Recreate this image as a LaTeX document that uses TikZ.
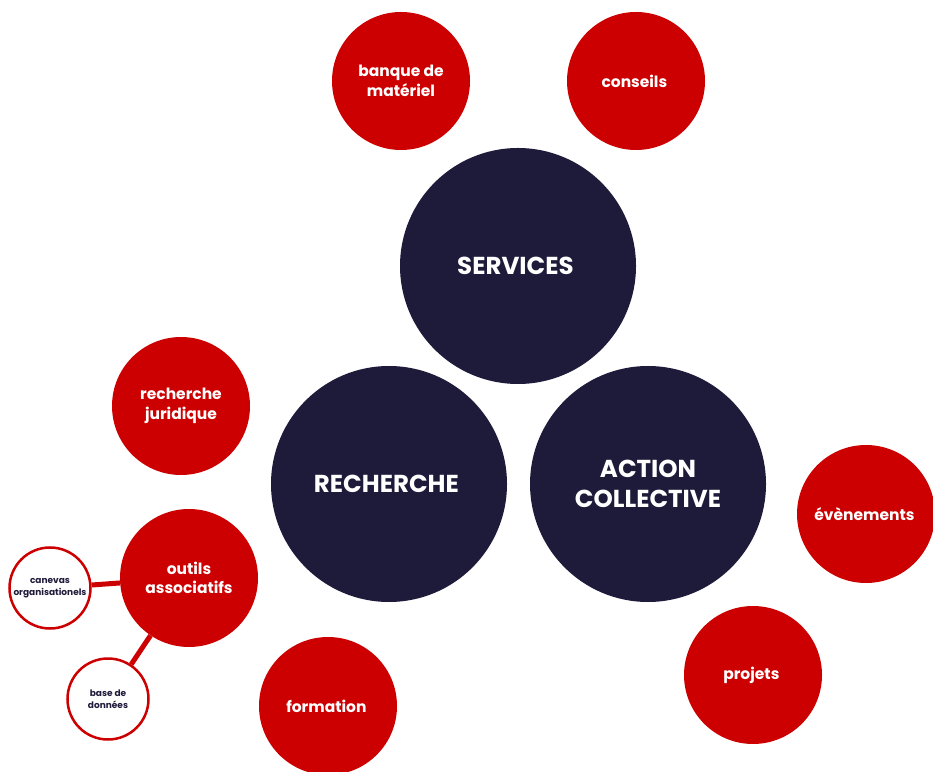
\documentclass[tikz,border=0pt]{standalone}
\usepackage{fontspec}
\setmainfont{Poppins}
\definecolor{navy}{RGB}{30,26,58}
\definecolor{brick}{RGB}{204,0,0}
\begin{document}
\begin{tikzpicture}[x=1pt,y=1pt,
    hub/.style={circle,fill=navy,inner sep=0pt,minimum size=236pt,text=white,align=center,font=\fontsize{24.5}{30}\selectfont\bfseries},
    leaf/.style={circle,fill=brick,inner sep=0pt,minimum size=138pt,text=white,align=center,font=\fontsize{15.5}{19.5}\selectfont\bfseries},
    twig/.style={circle,draw=brick,line width=2.5pt,fill=white,inner sep=0pt,minimum size=81pt,text=navy,align=center,font=\fontsize{9}{12}\selectfont\bfseries},
    link/.style={draw=brick,line width=5pt}]
            \useasboundingbox (0,0) rectangle (933,771);
            \clip (0,0) rectangle (933,771);

            \node[hub] (services) at (518, 505) { SERVICES };
            \node[hub] (recherche) at (389, 287) { RECHERCHE };
            \node[hub] (action) at (648, 287) { ACTION\\COLLECTIVE };

            \node[leaf] (banque) at (401, 690) { banque de\\matériel };
            \node[leaf] (conseils) at (636, 690) { conseils };
            \node[leaf] (juridique) at (181, 365) { recherche\\juridique };
            \node[leaf] (outils) at (189, 193) { outils\\associatifs };
            \node[leaf] (formation) at (328, 65) { formation };
            \node[leaf] (evenements) at (866, 257) { évènements };
            \node[leaf] (projets) at (753, 96) { projets };

            \node[twig] (canevas) at (50, 183) { canevas\\organisationels };
            \node[twig] (base) at (108, 72) { base de\\données };

            \draw[link] (outils) -- (canevas);
            \draw[link] (outils) -- (base);
        \end{tikzpicture}
\end{document}
